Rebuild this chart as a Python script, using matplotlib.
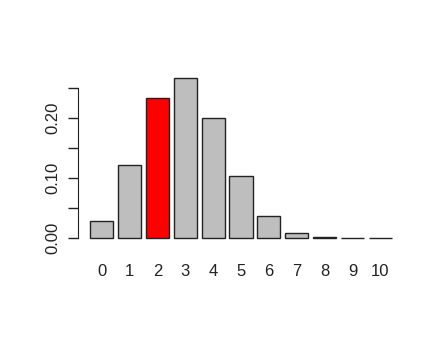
import matplotlib
matplotlib.use("Agg")
import matplotlib.pyplot as plt
import numpy as np

# number of successes and probabilities
successes = ["0", "1", "2", "3", "4", "5", "6", "7", "8", "9", "10"]
probs = [0.028, 0.121, 0.233, 0.267, 0.200, 0.103, 0.037, 0.009, 0.0014, 0.0001, 0.0]
highlight = "2"
ytick_vals = [0.0, 0.05, 0.10, 0.15, 0.20, 0.25]
ytick_labels = ["0.00", "", "0.10", "", "0.20", ""]

plt.rcParams['font.family'] = ['Liberation Sans', 'DejaVu Sans']

W, H = 445, 338
fig = plt.figure(figsize=(W / 100, H / 100), dpi=100)
ax = fig.add_axes([78 / W, (H - 244.4) / H, (404 - 78) / W, (244.4 - 71.5) / H])

# R barplot style positions: width 1, space 0.2
xs = 0.7 + 1.2 * np.arange(len(probs))
colors = ["#FF0000" if s == highlight else "#BEBEBE" for s in successes]
ax.bar(xs, probs, width=1.0, color=colors, edgecolor="#222222", linewidth=1.0)

ax.set_xlim(0.2 - 0.52, 13.2 + 0.52)
top = max(probs)
ax.set_ylim(-0.04 * top, top * 1.04)

for s in ["top", "right", "bottom"]:
    ax.spines[s].set_visible(False)
ax.spines["left"].set_bounds(0, 0.25)
ax.spines["left"].set_color("#222222")

ax.set_yticks(ytick_vals)
ax.set_yticklabels(ytick_labels, rotation=90, va="center", fontsize=12, color="#222222")
ax.tick_params(axis="y", length=7, width=1, color="#222222", pad=6)

ax.set_xticks(xs)
ax.set_xticklabels(successes, fontsize=12, color="#222222")
ax.tick_params(axis="x", length=0, pad=14)

fig.savefig("out.png", dpi=100)
